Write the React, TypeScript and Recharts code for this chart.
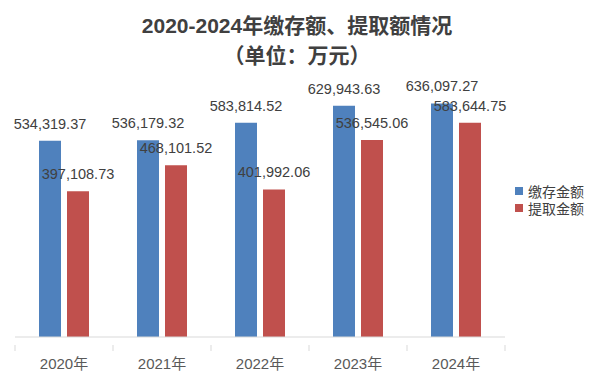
import React from 'react';
import { BarChart, Bar, XAxis, YAxis, LabelList, Legend } from 'recharts';

const categories = ['2020年', '2021年', '2022年', '2023年', '2024年'];
const depositValues = [534319.37, 536179.32, 583814.52, 629943.63, 636097.27];
const withdrawValues = [397108.73, 468101.52, 401992.06, 536545.06, 583644.75];
const seriesNames = ['缴存金额', '提取金额'];
const titleLines = ['2020-2024年缴存额、提取额情况', '（单位：万元）'];

const data = categories.map((c, i) => ({ name: c, deposit: depositValues[i], withdraw: withdrawValues[i] }));

const W = 590;
const H = 378;
const margin = { top: 80, right: 85, bottom: 0, left: 15 };
const plotW = W - margin.left - margin.right;
const band = plotW / categories.length;
const COLORS = ['#4F81BD', '#C0504D'];
const FONT = '"Liberation Sans", "Noto Sans CJK SC", sans-serif';

const fmt = (v: any) => {
  const n = Number(v);
  const [i, d] = n.toFixed(2).split('.');
  return i.replace(/\B(?=(\d{3})+(?!\d))/g, ',') + '.' + d;
};

const Tick = (props: any) => {
  const { x, y, payload, index } = props;
  const left = x - band / 2;
  const right = x + band / 2;
  return (
    <g>
      <line x1={left} y1={y} x2={left} y2={y + 6} stroke="#d9d9d9" strokeWidth={1} />
      {index === categories.length - 1 && (
        <line x1={right} y1={y} x2={right} y2={y + 6} stroke="#d9d9d9" strokeWidth={1} />
      )}
      <text x={x} y={y + 13} dy="0.71em" textAnchor="middle" fill="#595959" fontSize={15} fontFamily={FONT}>
        {payload.value}
      </text>
    </g>
  );
};

const LegendContent = () => (
  <div style={{ fontFamily: FONT, fontSize: 14, color: '#404040' }}>
    {seriesNames.map((n, i) => (
      <div key={n} style={{ display: 'flex', alignItems: 'center', height: 17 }}>
        <span style={{ display: 'inline-block', width: 8, height: 8, background: COLORS[i], marginRight: 5 }} />
        <span>{n}</span>
      </div>
    ))}
  </div>
);

export default function App() {
  return (
    <div style={{ position: 'absolute', left: 0, top: 0, width: W, height: H, background: '#fff' }}>
      <div
        style={{
          position: 'absolute',
          left: 0,
          top: 11,
          width: W,
          textAlign: 'center',
          fontFamily: FONT,
          fontWeight: 'bold',
          fontSize: 21,
          lineHeight: '30px',
          color: '#404040',
          paddingLeft: 2,
        }}
      >
        {titleLines.map((t) => (
          <div key={t}>{t}</div>
        ))}
      </div>
      <BarChart width={W} height={H} data={data} margin={margin} barSize={22} barGap={6}>
        <XAxis
          dataKey="name"
          height={41}
          axisLine={{ stroke: '#d9d9d9' }}
          tickLine={false}
          tick={<Tick />}
          interval={0}
        />
        <YAxis hide domain={[0, 700000]} />
        <Legend
          content={<LegendContent />}
          layout="vertical"
          align="center"
          verticalAlign="middle"
          wrapperStyle={{ position: 'absolute', left: 515, top: 182, width: 80 }}
        />
        <Bar dataKey="deposit" name={seriesNames[0]} fill={COLORS[0]} isAnimationActive={false}>
          <LabelList dataKey="deposit" position="top" offset={12} formatter={fmt} fill="#404040" fontSize={14.5} fontFamily={FONT} />
        </Bar>
        <Bar dataKey="withdraw" name={seriesNames[1]} fill={COLORS[1]} isAnimationActive={false}>
          <LabelList dataKey="withdraw" position="top" offset={12} formatter={fmt} fill="#404040" fontSize={14.5} fontFamily={FONT} />
        </Bar>
      </BarChart>
    </div>
  );
}
